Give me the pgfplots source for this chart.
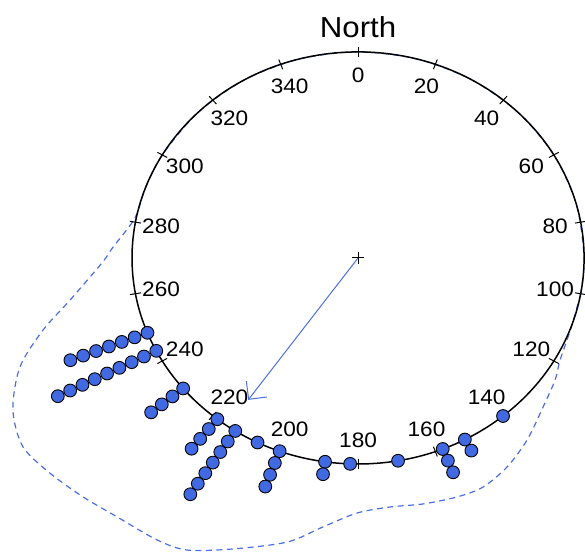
\documentclass[border=0pt]{standalone}
\usepackage{pgfplots}
\pgfplotsset{compat=1.18}
\usepackage{fontspec}
\setmainfont{Liberation Sans}
\usetikzlibrary{arrows.meta}
\definecolor{dotblue}{RGB}{65,105,225}
\definecolor{lineblue}{RGB}{75,110,230}
\begin{document}
\begin{tikzpicture}
\begin{axis}[x=226bp,y=206bp,xmin=-1.584,xmax=1.004,ymin=-1.432,ymax=1.252,hide axis,clip=false]
\coordinate (BL) at (axis cs:-1.584,-1.432);
\coordinate (TR) at (axis cs:1.004,1.252);
% kernel density (dashed)
\addplot[lineblue, line width=1.2pt, dash pattern=on 6pt off 4.5pt, smooth, tension=0.5]
 table[x expr={\thisrow{r}*sin(\thisrow{a})}, y expr={\thisrow{r}*cos(\thisrow{a})}] {
a r
100 1.000
110 1.002
119 1.022
124.2 1.054
131.4 1.092
139.7 1.157
147 1.210
153.6 1.242
159.3 1.240
166.5 1.228
173.3 1.217
180.2 1.238
186.8 1.315
192.8 1.414
201.4 1.517
208.1 1.607
213 1.632
220.3 1.648
226.4 1.681
232.5 1.717
238.3 1.743
244.2 1.696
250.5 1.587
255.9 1.437
260.9 1.290
268.8 1.133
272.8 1.085
281.1 1.006
290 1.000
300 1.000
315 1.000
330 1.000
345 1.000
360 1.000
375 1.000
390 1.000
405 1.000
420 1.000
435 1.000
450 1.000
460 1.000
};
% circle
\draw[black, line width=1.5pt] (axis cs:0,0) ellipse [x radius=1, y radius=1];
\pgfplotsinvokeforeach{0,20,...,340}{
  \draw[black, line width=1pt] (axis cs:{0.975*sin(#1)},{0.975*cos(#1)}) -- (axis cs:{1.025*sin(#1)},{1.025*cos(#1)});
  \node[font=\fontsize{21}{24}\selectfont, xscale=1.08] at (axis cs:{0.885*sin(#1)},{0.885*cos(#1)}) {#1};
}
\node[font=\fontsize{29}{32}\selectfont, xscale=1.08] at (axis cs:0,1.121) {North};
% centre
\addplot[only marks, mark=+, mark size=6bp, black, line width=1pt] coordinates {(0,0)};
% mean vector
\addplot[lineblue, line width=1pt, -{Straight Barb[length=13bp,width=26bp]}]
 table[x expr={\thisrow{r}*sin(\thisrow{a})}, y expr={\thisrow{r}*cos(\thisrow{a})}] {
a r
215.2 0
215.2 0.843
};
% data points
\addplot[only marks, mark=*, mark size=6.4bp, mark options={fill=dotblue, draw=black, line width=0.9pt}]
 table[x expr={\thisrow{r}*sin(\thisrow{a})}, y expr={\thisrow{r}*cos(\thisrow{a})}] {
a r
248.7 1.000
248.7 1.061
248.7 1.122
248.7 1.183
248.7 1.244
248.7 1.305
248.7 1.366
243.2 1.000
243.2 1.061
243.2 1.122
243.2 1.183
243.2 1.244
243.2 1.305
243.2 1.366
243.2 1.427
243.2 1.488
230.7 1.000
230.7 1.061
230.7 1.122
230.7 1.183
218.5 1.000
218.5 1.061
218.5 1.122
218.5 1.183
212.9 1.000
212.9 1.061
212.9 1.122
212.9 1.183
212.9 1.244
212.9 1.305
212.9 1.366
206.4 1.000
200.3 1.000
200.3 1.061
200.3 1.122
200.3 1.183
188.4 1.000
188.4 1.061
182.0 1.000
169.8 1.000
158.0 1.000
158.0 1.061
158.0 1.122
151.8 1.000
151.8 1.061
140.1 1.000
};
\end{axis}
\pgfresetboundingbox
\useasboundingbox (BL) rectangle (TR);
\end{tikzpicture}
\end{document}
